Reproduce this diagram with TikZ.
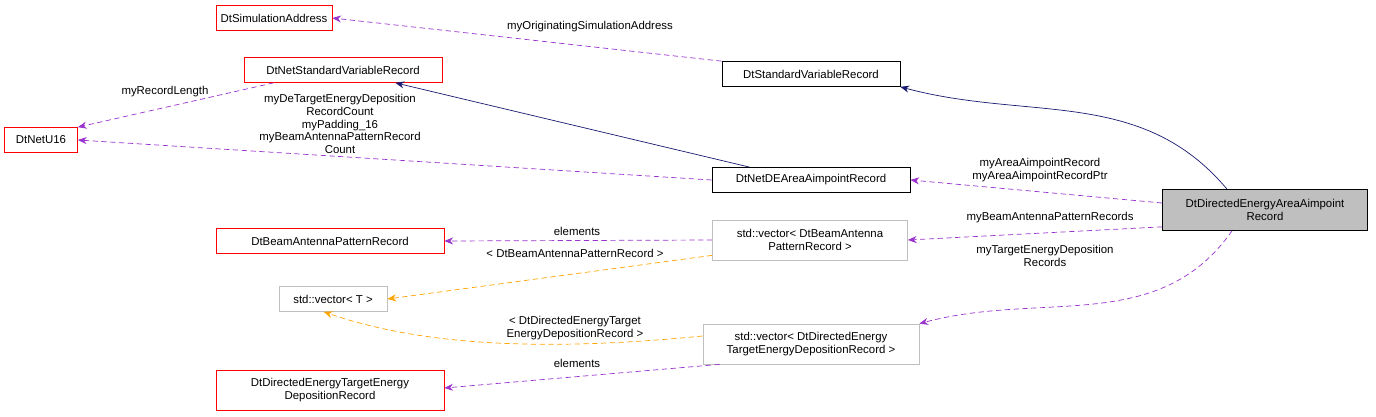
\documentclass[tikz,border=0pt]{standalone}
\usepackage{fontspec}
\setmainfont{Liberation Sans}
\usetikzlibrary{arrows.meta}
\definecolor{dxpurple}{HTML}{9A32CD}
\definecolor{dxnavy}{HTML}{191970}
\definecolor{dxorange}{HTML}{FFA500}
\definecolor{dxgray}{HTML}{BFBFBF}
\begin{document}
\begin{tikzpicture}[x=0.02cm,y=-0.02cm,
    every node/.style={font=\fontsize{6.5}{7.3}\selectfont,align=center,inner sep=1pt},
    b/.style={draw=red,fill=white,minimum height=0.5cm},
    bk/.style={draw=black,fill=white,minimum height=0.5cm},
    g/.style={draw=dxgray,fill=white,minimum height=0.8cm},
    use/.style={dxpurple,densely dashed,-{Stealth[length=5pt,width=4pt]}},
    inh/.style={dxnavy,-{Stealth[length=5pt,width=4pt]}},
    tpl/.style={dxorange,densely dashed,-{Stealth[length=5pt,width=4pt]}},
    lbl/.style={fill=none}]
    \useasboundingbox (0,0) rectangle (1376,416);
    % classes
    \node[b,minimum width=2.32cm] (simaddr) at (274,18) {DtSimulationAddress};
    \node[b,minimum width=3.96cm] (netstd) at (343,70) {DtNetStandardVariableRecord};
    \node[b,minimum width=1.46cm] (u16) at (41,140) {DtNetU16};
    \node[bk,minimum width=3.56cm] (stdvar) at (811,74) {DtStandardVariableRecord};
    \node[bk,minimum width=3.96cm] (netde) at (811,180) {DtNetDEAreaAimpointRecord};
    \node[draw=black,fill=dxgray,minimum width=4.1cm,minimum height=0.82cm] (dearea) at (1265,210) {DtDirectedEnergyAreaAimpoint\\Record};
    \node[b,minimum width=4.56cm] (beamrec) at (330,241) {DtBeamAntennaPatternRecord};
    \node[g,minimum width=3.9cm] (vecbeam) at (810,240) {std::vector\textless{} DtBeamAntenna\\PatternRecord \textgreater};
    \node[g,minimum width=2.16cm,minimum height=0.5cm] (vect) at (333,299) {std::vector\textless{} T \textgreater};
    \node[g,minimum width=4.32cm] (vecde) at (811,344) {std::vector\textless{} DtDirectedEnergy\\TargetEnergyDepositionRecord \textgreater};
    \node[b,minimum width=4.56cm,minimum height=0.8cm] (detarget) at (330,390) {DtDirectedEnergyTargetEnergy\\DepositionRecord};

    % connectors
    \draw[use] (stdvar.north west) -- (simaddr.east);
    \draw[inh] ([xshift=-0.76cm]dearea.north) to[out=130,in=-15] (stdvar.south east);
    \draw[inh] ([xshift=0.76cm]netde.north west) -- ([xshift=-0.94cm]netstd.south east);
    \draw[use] ([xshift=0.6cm]netstd.south west) -- (u16.north east);
    \draw[use] (netde.west) -- (u16.east);
    \draw[use] ([yshift=0.14cm]dearea.west) -- (netde.east);
    \draw[use] ([yshift=0.08cm]dearea.south west) -- (vecbeam.east);
    \draw[use] ([xshift=-0.66cm]dearea.south) to[out=-125,in=15] (vecde.north east);
    \draw[use] (vecbeam.west) -- (beamrec.east);
    \draw[tpl] ([yshift=0.1cm]vecbeam.south west) -- (vect.east);
    \draw[tpl] ([yshift=0.16cm]vecde.west) .. controls (540,352) and (420,345) .. ([xshift=0.9cm]vect.south west);
    \draw[use] ([xshift=0.34cm]vecde.south west) -- ([yshift=0.04cm]detarget.east);

    % labels
    \node[lbl] (l1) at (590,27) {myOriginatingSimulationAddress};
    \node[lbl] (l2) at (165,92) {myRecordLength};
    \node[lbl] (l3) at (340,124) {myDeTargetEnergyDeposition\\RecordCount\\myPadding\_16\\myBeamAntennaPatternRecord\\Count};
    \node[lbl] (l4) at (1040,170) {myAreaAimpointRecord\\myAreaAimpointRecordPtr};
    \node[lbl] (l5) at (1050,218) {myBeamAntennaPatternRecords};
    \node[lbl] (l6) at (1045,256) {myTargetEnergyDeposition\\Records};
    \node[lbl] (l7) at (577,231) {elements};
    \node[lbl] (l8) at (575,253) {\textless{} DtBeamAntennaPatternRecord \textgreater};
    \node[lbl] (l9) at (575,328) {\textless{} DtDirectedEnergyTarget\\EnergyDepositionRecord \textgreater};
    \node[lbl] (l10) at (577,363) {elements};
\end{tikzpicture}
\end{document}
